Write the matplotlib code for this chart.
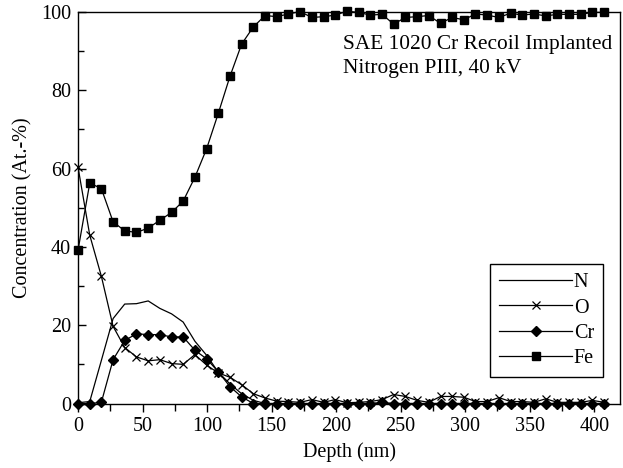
import matplotlib
matplotlib.use("Agg")
import matplotlib.pyplot as plt
from matplotlib.ticker import MultipleLocator

plt.rcParams['font.family'] = ['Liberation Serif', 'DejaVu Serif']
plt.rcParams['mathtext.fontset'] = 'stix'

depth = [0.0, 9.1, 18.1, 27.2, 36.2, 45.3, 54.4, 63.4, 72.5, 81.5,
         90.6, 99.7, 108.7, 117.8, 126.8, 135.9, 145.0, 154.0, 163.1, 172.1,
         181.2, 190.3, 199.3, 208.4, 217.4, 226.5, 235.6, 244.6, 253.7, 262.7,
         271.8, 280.9, 289.9, 299.0, 308.0, 317.1, 326.2, 335.2, 344.3, 353.3,
         362.4, 371.5, 380.5, 389.6, 398.6, 407.7]

N = [0.2, 0.5, 11.0, 21.7, 25.4, 25.5, 26.2, 24.3, 22.9, 20.8,
     15.9, 12.3, 8.0, 5.0, 2.5, 0.8, 0.0, 0.0, 0.0, 0.0,
     0.0, 0.0, 0.0, 0.0, 0.0, 0.0, 0.0, 0.0, 0.0, 0.0,
     0.0, 0.0, 0.0, 0.0, 0.0, 0.0, 0.0, 0.0, 0.0, 0.0,
     0.0, 0.0, 0.0, 0.0, 0.0, 0.0]

O = [60.4, 43.0, 32.5, 19.7, 14.3, 11.9, 10.9, 11.2, 10.2, 10.0,
     12.5, 9.8, 7.8, 6.7, 4.8, 2.5, 1.4, 0.6, 0.5, 0.3,
     1.0, 0.3, 1.0, 0.2, 0.3, 0.5, 1.0, 2.3, 1.8, 0.8,
     0.3, 1.8, 1.8, 1.6, 0.5, 0.5, 1.5, 0.5, 0.5, 0.3,
     1.2, 0.3, 0.3, 0.3, 0.8, 0.3]

Cr = [0.0, 0.0, 0.3, 11.2, 16.1, 17.8, 17.6, 17.6, 17.0, 17.0,
      13.6, 11.4, 8.1, 4.3, 1.7, 0.0, 0.0, 0.0, 0.0, 0.0,
      0.0, 0.0, 0.0, 0.0, 0.0, 0.0, 0.3, 0.0, 0.0, 0.0,
      0.0, 0.0, 0.0, 0.0, 0.0, 0.0, 0.0, 0.0, 0.0, 0.0,
      0.0, 0.0, 0.0, 0.0, 0.0, 0.0]

Fe = [39.1, 56.3, 54.9, 46.4, 44.1, 43.7, 44.8, 46.8, 48.8, 51.7,
      57.8, 65.1, 74.1, 83.6, 91.8, 96.2, 99.1, 98.8, 99.5, 100.1,
      98.6, 98.8, 99.2, 100.2, 99.9, 99.2, 99.4, 96.9, 98.6, 98.8,
      99.1, 97.1, 98.6, 98.0, 99.5, 99.2, 98.6, 99.7, 99.2, 99.5,
      99.0, 99.4, 99.4, 99.4, 99.9, 99.9]

labels = ['N', 'O', 'Cr', 'Fe']

fig = plt.figure(figsize=(6.23, 4.68), dpi=100)
ax = fig.add_axes([0.1252, 0.1378, 0.8700, 0.8366])

ax.plot(depth, N, color='black', lw=0.9, label=labels[0], clip_on=False)
ax.plot(depth, O, color='black', lw=0.9, marker='x', ms=6, mew=0.9,
        label=labels[1], clip_on=False)
ax.plot(depth, Cr, color='black', lw=0.9, marker='D', ms=5,
        label=labels[2], clip_on=False)
ax.plot(depth, Fe, color='black', lw=0.9, marker='s', ms=6,
        label=labels[3], clip_on=False)

ax.set_xlim(0, 420)
ax.set_ylim(0, 100)
ax.xaxis.set_major_locator(MultipleLocator(50))
ax.xaxis.set_minor_locator(MultipleLocator(25))
ax.yaxis.set_major_locator(MultipleLocator(20))
ax.yaxis.set_minor_locator(MultipleLocator(10))
ax.tick_params(axis='x', which='both', direction='out', top=False,
               labelsize=14.5, width=1.0, pad=4)
ax.tick_params(axis='x', which='major', length=6)
ax.tick_params(axis='x', which='minor', length=5)
ax.tick_params(axis='y', which='both', direction='in', right=False,
               labelsize=14.5, width=1.0, pad=5)
ax.tick_params(axis='y', which='major', length=6)
ax.tick_params(axis='y', which='minor', length=4)
for s in ax.spines.values():
    s.set_linewidth(1.0)

ax.set_xlabel('Depth (nm)', fontsize=14.5, labelpad=4)
ax.set_ylabel('Concentration (At.-%)', fontsize=14.5, labelpad=6)

ax.text(0.488, 0.94, 'SAE 1020 Cr Recoil Implanted\nNitrogen PIII, 40 kV',
        transform=ax.transAxes, fontsize=15.4, va='top', ha='left',
        linespacing=1.3)

leg = ax.legend(loc='lower right', bbox_to_anchor=(0.969, 0.068),
                borderaxespad=0.0,
                fontsize=14.5, frameon=True, fancybox=False,
                edgecolor='black', framealpha=1, handlelength=3.6,
                handletextpad=0.1, labelspacing=0.3, borderpad=0.45,
                markerfirst=True)
leg.get_frame().set_linewidth(1.0)

fig.savefig('out.png', dpi=100)
